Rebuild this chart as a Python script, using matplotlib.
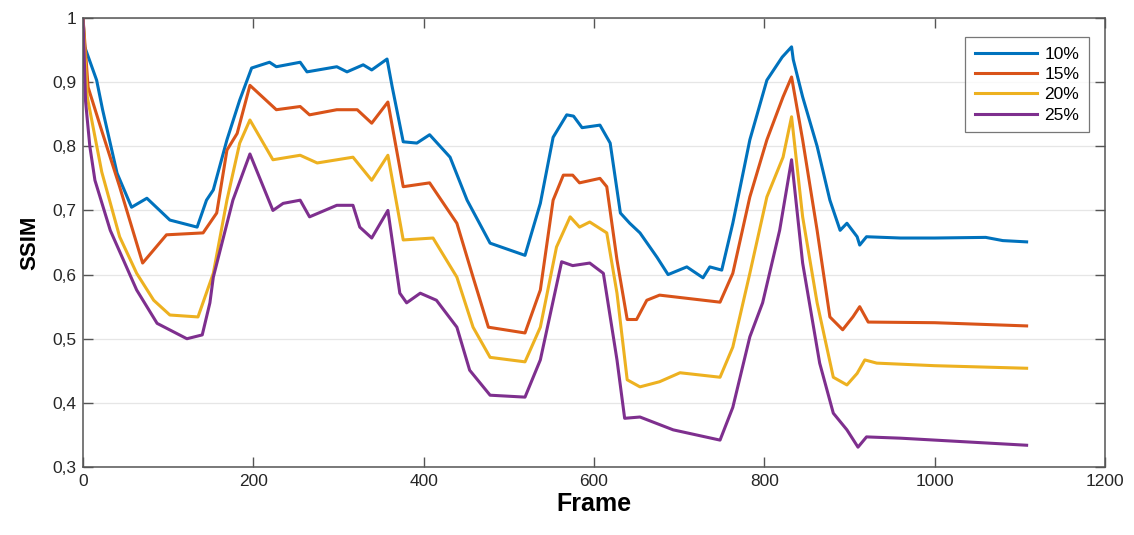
import matplotlib.pyplot as plt
from matplotlib.ticker import FuncFormatter

plt.rcParams['font.family'] = ['Liberation Sans', 'DejaVu Sans']

# frame / SSIM pairs
frames_10 = [0, 2, 16, 23, 40, 57, 75, 102, 134, 145, 153, 169, 184, 198, 219, 227, 255, 263, 298, 310, 329,
             339, 357, 363, 376, 392, 407, 431, 451, 478, 519, 537, 552, 568, 576, 586, 607, 619, 631, 642, 654,
             674, 687, 709, 728, 736, 750, 763, 783, 803, 821, 832, 834, 845, 862, 877, 889, 897, 909, 912, 920,
             960, 1000, 1060, 1080, 1108]
ssim_10 = [1.0, 0.955, 0.903, 0.857, 0.758, 0.705, 0.719, 0.685, 0.674, 0.716, 0.732, 0.81, 0.872, 0.922,
           0.931, 0.924, 0.931, 0.916, 0.924, 0.916, 0.927, 0.919, 0.936, 0.893, 0.807, 0.805, 0.818, 0.783,
           0.716, 0.649, 0.63, 0.711, 0.814, 0.849, 0.847, 0.829, 0.833, 0.805, 0.696, 0.68, 0.665, 0.627, 0.6,
           0.612, 0.595, 0.612, 0.607, 0.68, 0.81, 0.903, 0.939, 0.955, 0.935, 0.877, 0.80, 0.716, 0.669, 0.68,
           0.659, 0.646, 0.659, 0.657, 0.657, 0.658, 0.653, 0.651]

frames_15 = [0, 6, 23, 43, 70, 98, 141, 157, 169, 181, 196, 227, 255, 266, 298, 322, 339, 358, 376, 407, 439,
             458, 476, 519, 537, 552, 564, 575, 583, 607, 615, 627, 639, 650, 662, 677, 748, 763, 783, 803, 822,
             832, 845, 862, 877, 892, 904, 912, 922, 1000, 1108]
ssim_15 = [1.0, 0.892, 0.82, 0.737, 0.618, 0.662, 0.665, 0.696, 0.794, 0.82, 0.895, 0.857, 0.862, 0.849,
           0.857, 0.857, 0.836, 0.869, 0.737, 0.743, 0.68, 0.596, 0.518, 0.509, 0.576, 0.716, 0.755, 0.755,
           0.743, 0.75, 0.737, 0.623, 0.53, 0.53, 0.56, 0.568, 0.557, 0.602, 0.721, 0.81, 0.877, 0.908, 0.81,
           0.669, 0.534, 0.514, 0.534, 0.55, 0.526, 0.525, 0.52]

frames_20 = [0, 5, 22, 43, 63, 83, 102, 135, 153, 169, 184, 196, 223, 255, 275, 317, 339, 358, 376, 411, 439,
             458, 478, 519, 537, 556, 572, 583, 595, 615, 627, 639, 654, 677, 701, 748, 763, 783, 803, 822, 832,
             845, 862, 881, 897, 909, 918, 932, 1000, 1108]
ssim_20 = [1.0, 0.877, 0.76, 0.659, 0.602, 0.56, 0.537, 0.534, 0.602, 0.716, 0.805, 0.841, 0.779, 0.786,
           0.774, 0.783, 0.747, 0.786, 0.654, 0.657, 0.596, 0.518, 0.471, 0.464, 0.518, 0.643, 0.69, 0.674,
           0.682, 0.665, 0.571, 0.436, 0.425, 0.433, 0.447, 0.44, 0.487, 0.602, 0.721, 0.783, 0.846, 0.69,
           0.556, 0.44, 0.428, 0.446, 0.467, 0.462, 0.458, 0.454]

frames_25 = [0, 3, 8, 14, 32, 63, 87, 122, 140, 149, 153, 176, 196, 223, 235, 255, 266, 298, 317, 325, 339,
             358, 372, 380, 396, 415, 439, 454, 478, 519, 537, 562, 575, 595, 611, 627, 636, 654, 693, 748, 763,
             783, 798, 818, 832, 845, 865, 881, 897, 910, 920, 960, 1108]
ssim_25 = [1.0, 0.87, 0.80, 0.747, 0.669, 0.576, 0.524, 0.50, 0.506, 0.556, 0.596, 0.716, 0.788, 0.70, 0.711,
           0.716, 0.69, 0.708, 0.708, 0.674, 0.657, 0.70, 0.571, 0.556, 0.571, 0.56, 0.518, 0.451, 0.412, 0.409,
           0.467, 0.62, 0.614, 0.618, 0.602, 0.467, 0.376, 0.378, 0.358, 0.342, 0.393, 0.503, 0.556, 0.669,
           0.779, 0.618, 0.462, 0.384, 0.358, 0.331, 0.347, 0.345, 0.334]

labels = ['10%', '15%', '20%', '25%']
colors = ['#0072BD', '#D95319', '#EDB120', '#7E2F8E']

fig = plt.figure(figsize=(11.34, 5.35), dpi=100)
ax = fig.add_axes([0.0732, 0.127, 0.9012, 0.8394])

series = [(frames_10, ssim_10), (frames_15, ssim_15), (frames_20, ssim_20), (frames_25, ssim_25)]
for (fx, fy), lab, col in zip(series, labels, colors):
    ax.plot(fx, fy, color=col, lw=2.2, label=lab)

ax.set_xlim(0, 1200)
ax.set_ylim(0.3, 1.0)
ax.set_xticks(range(0, 1201, 200))
ax.set_yticks([0.3, 0.4, 0.5, 0.6, 0.7, 0.8, 0.9, 1.0])
ax.yaxis.set_major_formatter(FuncFormatter(lambda v, p: ('%g' % round(v, 1)).replace('.', ',')))
ax.grid(axis='y', color='#e6e6e6', lw=0.9)
ax.set_axisbelow(True)
ax.tick_params(direction='in', top=True, right=True, length=7, width=1, color='#555555',
               labelsize=12.5, labelcolor='#262626', pad=5)
for s in ax.spines.values():
    s.set_color('#555555')
    s.set_linewidth(1.1)

ax.set_xlabel('Frame', fontsize=18, fontweight='bold', labelpad=2)
ax.set_ylabel('SSIM', fontsize=16, fontweight='bold', labelpad=8)

leg = ax.legend(loc='upper right', bbox_to_anchor=(0.9843, 0.9577), borderaxespad=0, fontsize=12.5,
                handlelength=3.6, fancybox=False, edgecolor='#555555', borderpad=0.55, labelspacing=0.3,
                handletextpad=0.4)
leg.get_frame().set_linewidth(0.9)

fig.savefig('out.png', dpi=100)
